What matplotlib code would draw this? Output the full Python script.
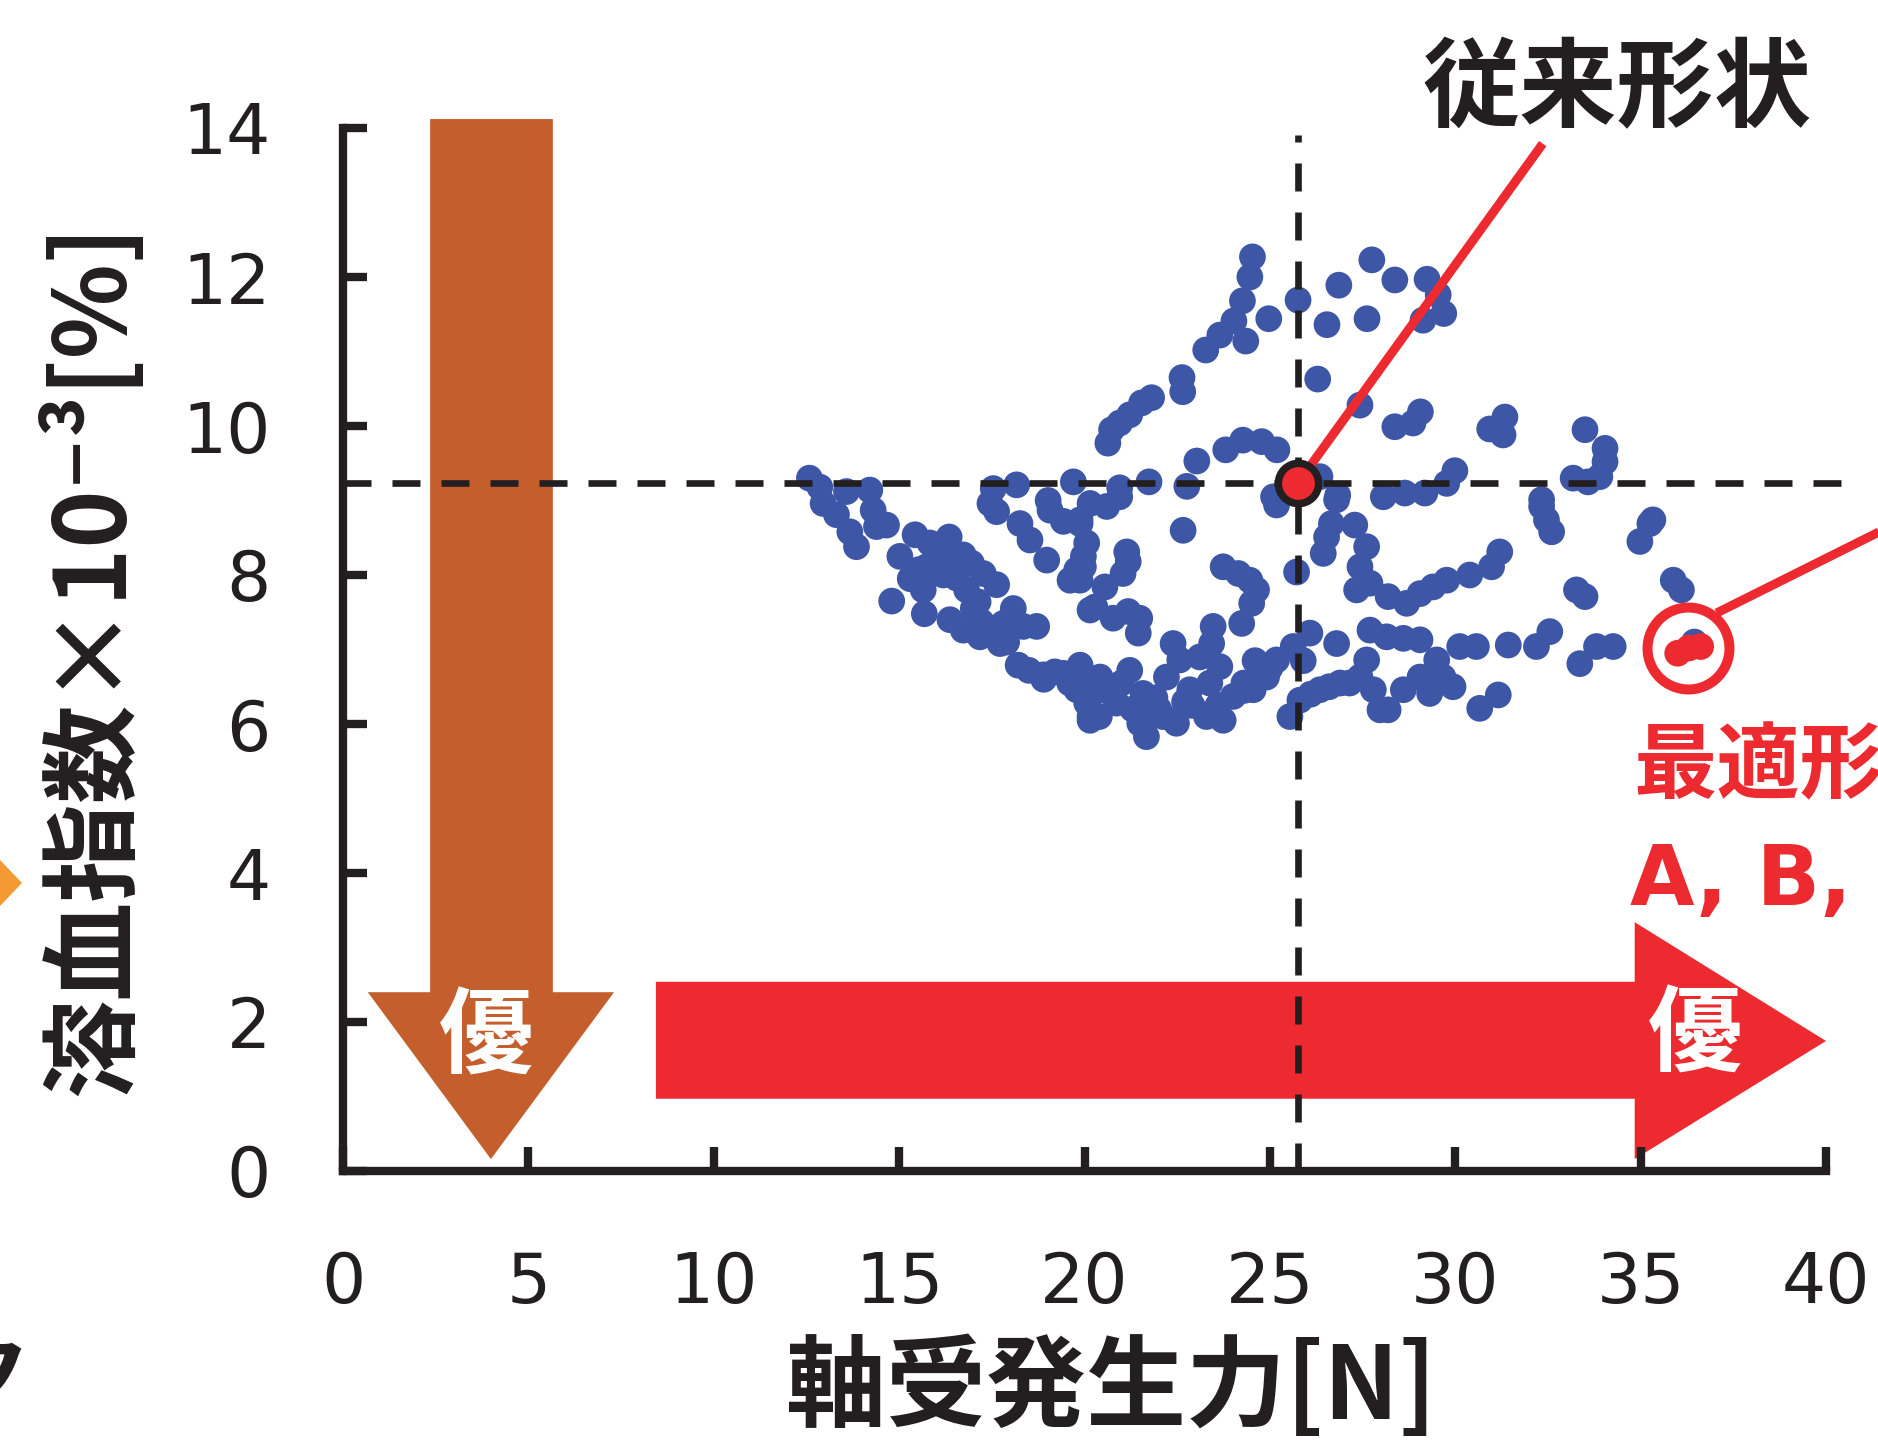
import numpy as np
import matplotlib.pyplot as plt
from matplotlib.patches import Polygon

plt.rcParams['font.family'] = ['Noto Sans CJK JP', 'DejaVu Sans']

INK = '#231F20'
BLUE = '#3D56A6'
RED = '#ED2A2F'
BROWN = '#C45E2D'
ORANGE = '#F39A33'

# bearing force [N] / hemolysis index [x10^-3 %] of every candidate shape
force = [
    24.53, 24.46, 24.26, 24.03, 23.65, 23.27, 24.35, 24.97, 22.63, 22.65,
    21.81, 21.54, 21.22, 20.95, 20.73, 20.63, 25.76, 26.86, 26.54, 27.62,
    27.75, 26.29, 27.43, 23.03, 23.81, 24.27, 24.78, 25.19, 28.37, 29.24,
    29.54, 29.69, 29.13, 28.37, 28.86, 29.06, 30.93, 31.34, 31.29, 33.50,
    34.04, 34.04,
    33.90, 33.18, 33.58, 29.99, 29.77, 29.18, 28.64, 28.06, 32.33, 20.95,
    21.74, 22.76, 26.35, 26.83, 25.10, 12.58, 12.86, 13.58, 14.21, 17.54,
    18.17, 19.70, 19.02,
    12.95, 13.31, 14.30, 13.67, 13.85, 14.39, 14.66, 15.43, 15.83, 16.35,
    16.73, 16.95, 17.27, 17.63, 15.02, 15.52, 15.65, 15.74, 16.19, 16.55,
    16.82, 17.13, 17.22, 16.37, 14.80, 15.68, 16.73, 17.18, 17.72, 18.08,
    17.81, 18.35, 18.71, 18.21, 18.89, 19.43, 19.88, 19.97, 20.06, 20.15,
    19.79, 17.45, 17.63, 18.26, 18.53, 18.98, 19.07, 19.43, 19.88, 19.97,
    19.61, 19.79, 20.15,
    20.15, 20.60, 20.95, 19.88, 20.06, 19.97, 19.88, 21.14, 21.18, 21.04,
    20.55, 20.28, 20.77, 21.18, 21.49, 21.45, 22.66, 23.74, 24.15, 24.46,
    24.64, 24.51, 24.24, 25.72, 25.18, 26.80, 26.66, 26.53, 26.44, 27.29,
    27.61, 27.43, 27.34, 27.70, 23.47, 23.43, 22.39, 22.57, 23.11, 23.65,
    23.38, 21.22, 19.88, 20.42, 20.15, 20.86, 20.15, 21.58, 21.49, 21.67,
    22.21, 22.12, 22.48, 22.84, 23.29, 23.74, 24.01, 24.55, 24.91, 25.18,
    25.63, 26.08, 26.80, 27.70, 27.61, 25.54, 25.81, 26.35, 26.89, 27.43,
    27.79, 27.97,
    28.19, 28.69, 29.05, 29.40, 29.77, 30.39, 30.98, 31.20, 32.33, 32.46,
    32.60, 35.25, 34.98, 33.27, 33.50, 35.88, 28.15, 28.60, 29.05, 30.12,
    30.57, 31.43, 32.19, 32.55, 33.36, 33.81, 34.26, 29.50, 29.05, 29.67,
    29.94, 28.60, 29.31, 28.19, 30.66, 31.16, 36.10, 35.33, 36.45,
    16.00, 16.40, 15.30, 17.00, 17.50, 21.00, 21.90, 22.90, 24.30, 24.60,
    25.90, 20.40,
    18.50, 19.20, 19.60, 20.60, 21.30, 22.00, 22.70, 23.60, 24.30, 25.00,
    26.10, 26.60, 27.15, 18.90, 17.90,
]
hemolysis = [
    12.27, 12.00, 11.68, 11.41, 11.22, 11.02, 11.14, 11.44, 10.65, 10.46,
    10.38, 10.31, 10.15, 10.04, 9.95, 9.77, 11.69, 11.89, 11.36, 11.44,
    12.23, 10.63, 10.28, 9.53, 9.68, 9.81, 9.79, 9.68, 11.96, 11.97,
    11.76, 11.51, 11.42, 9.99, 10.04, 10.19, 9.96, 10.12, 9.88, 9.95,
    9.70, 9.52,
    9.32, 9.30, 9.25, 9.40, 9.23, 9.10, 9.10, 9.05, 9.01, 9.17,
    9.25, 9.19, 9.32, 9.07, 9.05, 9.30, 9.18, 9.12, 9.14, 9.16,
    9.21, 9.25, 9.00,
    8.96, 8.81, 8.87, 8.58, 8.38, 8.65, 8.67, 8.54, 8.43, 8.51,
    8.27, 8.16, 8.02, 7.87, 8.25, 8.07, 7.80, 8.11, 8.00, 7.96,
    7.80, 7.64, 7.37, 7.40, 7.65, 7.48, 7.26, 7.17, 7.08, 7.55,
    7.35, 7.31, 7.31, 6.79, 6.66, 6.68, 6.79, 6.59, 6.28, 6.10,
    6.46, 8.96, 8.85, 8.69, 8.47, 8.20, 8.87, 8.72, 8.74, 8.25,
    7.93, 8.07, 7.53,
    8.96, 8.92, 9.05, 8.69, 8.43, 8.11, 7.93, 8.31, 8.18, 8.02,
    7.84, 7.57, 7.42, 7.51, 7.42, 7.22, 8.60, 8.11, 8.02, 7.93,
    7.80, 7.62, 7.35, 8.04, 8.94, 9.01, 8.69, 8.51, 8.29, 8.67,
    8.38, 8.11, 7.80, 7.89, 7.31, 7.08, 7.08, 6.86, 6.90, 6.77,
    6.55, 6.72, 6.77, 6.63, 6.37, 6.28, 6.05, 6.41, 6.01, 5.83,
    6.63, 6.10, 6.01, 6.46, 6.10, 6.05, 6.37, 6.46, 6.63, 6.86,
    7.04, 7.22, 7.08, 7.26, 6.86, 6.10, 6.32, 6.46, 6.55, 6.63,
    6.46, 6.19,
    7.71, 7.62, 7.75, 7.84, 7.93, 8.00, 8.11, 8.31, 8.92, 8.74,
    8.58, 8.69, 8.45, 7.80, 7.71, 7.93, 7.17, 7.15, 7.13, 7.04,
    7.04, 7.06, 7.04, 7.24, 6.81, 7.04, 7.04, 6.86, 6.63, 6.63,
    6.50, 6.46, 6.41, 6.19, 6.21, 6.39, 7.80, 8.74, 7.10,
    8.25, 8.20, 7.95, 7.55, 7.25, 6.55, 6.35, 6.25, 6.55, 6.85,
    6.85, 6.10,
    6.72, 6.70, 6.55, 6.45, 6.20, 6.20, 6.30, 6.25, 6.45, 6.75,
    6.40, 6.50, 6.55, 6.60, 7.10,
]

# conventional shape and the optimum shapes A, B, C
conv_force, conv_hemo = 25.75, 9.23
opt_force = [36.00, 36.30, 36.62]
opt_hemo = [6.95, 7.02, 7.04]

x_ticks = np.arange(0, 41, 5)
y_ticks = np.arange(0, 15, 2)

fig = plt.figure(figsize=(18.78, 14.4), dpi=100)
ax = fig.add_axes([343 / 1878, 269 / 1440, 1483 / 1878, 1043 / 1440])
ax.set_xlim(0, 40)
ax.set_ylim(0, 14)

# "better" arrows along both axes
down_arrow = [(2.35, 14.12), (5.66, 14.12), (5.66, 2.40), (7.31, 2.40),
              (3.99, 0.16), (0.67, 2.40), (2.35, 2.40)]
right_arrow = [(8.44, 2.54), (34.84, 2.54), (34.84, 3.34), (40.0, 1.745),
               (34.84, 0.16), (34.84, 0.97), (8.44, 0.97)]
ax.add_patch(Polygon(down_arrow, closed=True, fc=BROWN, ec='none',
                     clip_on=False, zorder=1))
ax.add_patch(Polygon(right_arrow, closed=True, fc=RED, ec='none',
                     clip_on=False, zorder=1))
ax.text(3.85, 1.78, '優', color='white', fontsize=68, fontweight='bold',
        ha='center', va='center', zorder=2)
ax.text(36.46, 1.80, '優', color='white', fontsize=68, fontweight='bold',
        ha='center', va='center', zorder=2)

ax.scatter(force, hemolysis, s=370, color=BLUE, edgecolors='none', zorder=3)

# reference lines through the conventional shape
ax.plot([0, 40.4], [conv_hemo, conv_hemo], color=INK, lw=4.8,
        dashes=(4.2, 3.15), clip_on=False, zorder=4)
ax.plot([conv_force, conv_force], [0, 13.9], color=INK, lw=4.8,
        dashes=(4.2, 3.15), clip_on=False, zorder=4)

# conventional shape callout
ax.plot([conv_force, 32.36], [conv_hemo, 13.79], color=RED, lw=6.5,
        solid_capstyle='butt', clip_on=False, zorder=5)
ax.plot(conv_force, conv_hemo, 'o', ms=29, mfc=RED, mec=INK, mew=5.4,
        zorder=6)
ax.text(34.36, 14.50, '従来形状', color=INK, fontsize=70, fontweight='bold',
        ha='center', va='center')

# optimum shapes callout
ax.scatter(opt_force, opt_hemo, s=370, color=RED, edgecolors='none',
           zorder=6)
ax.plot(36.28, 7.02, 'o', ms=59, mfc='none', mec=RED, mew=7.2, zorder=6)
ax.plot([37.05, 41.6], [7.49, 8.62], color=RED, lw=6.5,
        solid_capstyle='butt', clip_on=False, zorder=5)
ax.text(34.80, 5.42, '最適形状', color=RED, fontsize=60, fontweight='bold',
        ha='left', va='center', clip_on=False)
ax.text(34.70, 3.57, 'A, B, C', color=RED, fontsize=60, fontweight='bold',
        family='DejaVu Sans', ha='left', va='baseline', clip_on=False)

# axes styling
for side in ['top', 'right']:
    ax.spines[side].set_visible(False)
for side in ['left', 'bottom']:
    ax.spines[side].set_linewidth(6)
    ax.spines[side].set_color(INK)
    ax.spines[side].set_capstyle('projecting')
ax.set_xticks(x_ticks)
ax.set_yticks(y_ticks)
ax.tick_params(direction='in', length=17, width=6, color=INK,
               labelsize=50, labelcolor=INK)
ax.tick_params(axis='x', pad=57)
ax.tick_params(axis='y', pad=52)
for lbl in ax.get_xticklabels() + ax.get_yticklabels():
    lbl.set_family('DejaVu Sans')

fig.text(93 / 1878, 0.542, '溶血指数×10⁻³[%]', rotation=90, color=INK,
         fontsize=71, fontweight='bold', ha='center', va='center')
fig.text(1111 / 1878, 0.035, '軸受発生力[N]', color=INK, fontsize=72,
         fontweight='bold', ha='center', va='center')

# pieces of the neighbouring panel at the left edge
fig.add_artist(Polygon([(0, 0.4028), (22 / 1878, 0.3868), (0, 0.3708)],
                       closed=True, fc=ORANGE, ec='none',
                       transform=fig.transFigure))
fig.text(30 / 1878, 0.043, 'ク', color=INK, fontsize=66, fontweight='bold',
         ha='right', va='center')

fig.savefig('out.png', dpi=100)
